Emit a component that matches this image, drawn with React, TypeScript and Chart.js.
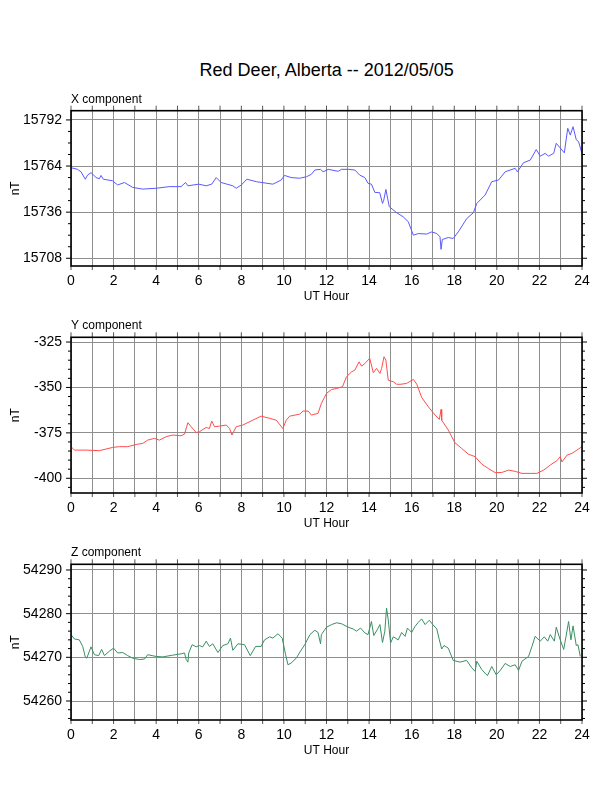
import React, { useEffect, useRef } from 'react';
import { Chart, registerables } from 'chart.js';

Chart.register(...registerables);

const FONT = '"Liberation Sans", Arial, Helvetica, sans-serif';
const GRID = '#8e8e8e';

const chartTitle = 'Red Deer, Alberta -- 2012/05/05';
const xAxisLabels = [0, 2, 4, 6, 8, 10, 12, 14, 16, 18, 20, 22, 24];

// X component
const xHours = [0, 0.31, 0.47, 0.67, 0.78, 0.94, 1.18, 1.33, 1.41, 1.52, 1.96, 2.19, 2.51, 2.9, 3.37, 4.0, 4.62, 5.17, 5.38, 5.49, 6.0, 6.35, 6.61, 6.82, 7.05, 7.6, 7.76, 8.0, 8.26, 8.7, 9.48, 9.87, 10.03, 10.34, 10.74, 11.06, 11.29, 11.45, 11.72, 11.84, 12.08, 12.55, 12.7, 13.02, 13.33, 13.56, 13.8, 13.95, 14.11, 14.27, 14.5, 14.63, 14.69, 14.79, 14.87, 14.95, 15.29, 15.6, 15.84, 16.08, 16.31, 16.71, 16.94, 17.18, 17.33, 17.38, 17.44, 17.72, 17.95, 18.19, 18.58, 18.9, 19.06, 19.45, 19.76, 20.08, 20.39, 20.86, 20.97, 21.25, 21.57, 21.85, 22.04, 22.27, 22.43, 22.67, 22.79, 23.06, 23.17, 23.33, 23.45, 23.58, 23.73, 23.84, 24];
const xValues = [15763, 15762, 15760.5, 15756, 15758.5, 15760, 15757, 15756.3, 15758.3, 15756, 15755, 15752.5, 15754, 15751, 15750, 15750.5, 15751.5, 15751.5, 15754, 15752, 15753, 15752, 15753, 15757, 15754, 15752, 15750.5, 15752.5, 15756, 15754.5, 15753, 15755.5, 15758.3, 15757, 15756.6, 15757.5, 15759, 15761.6, 15762, 15760.5, 15762, 15760.8, 15762, 15762, 15761.6, 15758.5, 15757, 15753.5, 15753, 15748, 15747.8, 15741.3, 15743.3, 15749.8, 15744.4, 15739.3, 15735.7, 15733.2, 15730.2, 15722, 15723, 15722.7, 15724, 15723, 15721, 15713.4, 15719.4, 15720.6, 15720, 15724, 15732, 15735.7, 15741.3, 15746.4, 15754.5, 15755.5, 15760.5, 15762.6, 15760.5, 15766, 15767.6, 15774, 15770, 15771.7, 15770, 15771.7, 15777.8, 15773.7, 15772, 15786.9, 15782.8, 15787.9, 15780, 15778.8, 15771.7];
const xMajors = [15708, 15736, 15764, 15792];

// Y component
const yHours = [0, 0.16, 0.7, 1.33, 1.96, 2.27, 2.66, 3.06, 3.37, 3.6, 3.92, 4.15, 4.47, 4.78, 5.17, 5.33, 5.49, 5.64, 5.88, 6.03, 6.35, 6.5, 6.61, 6.74, 6.97, 7.29, 7.45, 7.56, 7.76, 8.07, 8.54, 8.93, 9.33, 9.64, 9.95, 10.11, 10.27, 10.74, 10.9, 11.14, 11.29, 11.6, 11.76, 12.0, 12.24, 12.47, 12.75, 12.94, 13.18, 13.33, 13.53, 13.65, 13.8, 14.03, 14.2, 14.35, 14.51, 14.59, 14.7, 14.79, 14.9, 15.14, 15.29, 15.45, 15.76, 16.08, 16.24, 16.47, 16.78, 17.1, 17.3, 17.38, 17.41, 17.72, 18.03, 18.35, 18.66, 18.98, 19.29, 19.6, 19.92, 20.23, 20.55, 20.86, 21.18, 21.57, 21.88, 22.2, 22.51, 22.82, 22.98, 23.06, 23.3, 23.53, 23.76, 24];
const yValues = [-382.6, -384.5, -384.5, -384.8, -383, -382.6, -382.6, -381.4, -380.8, -379, -378, -379, -377.1, -376.2, -376.6, -375.7, -369.4, -371.6, -374.8, -374.4, -372, -372.6, -368.5, -371.6, -371.3, -370.7, -372.6, -376.2, -371.6, -370.7, -368, -365.8, -367, -368, -372.6, -368, -365.8, -364.7, -363, -363, -365.2, -364.3, -358.8, -353.3, -351.1, -350.6, -349.6, -344.1, -341.4, -340.5, -335.9, -338.3, -336.8, -334, -341.9, -339.5, -342.3, -339.5, -333.1, -335, -346, -346.9, -348.2, -348.3, -347.8, -345.6, -348.2, -355.5, -360.6, -365.2, -367.6, -362.1, -368, -373.5, -380.4, -383.6, -386.7, -388.1, -392.2, -394.6, -396.9, -396.8, -395.5, -396.2, -397.3, -397.3, -397.3, -395.5, -392.7, -390.3, -388.1, -391, -387.2, -386.3, -384.5, -382.6];
const yMajors = [-400, -375, -350, -325];

// Z component
const zHours = [0, 0.16, 0.39, 0.55, 0.67, 0.74, 0.94, 1.1, 1.3, 1.44, 1.57, 1.8, 2.0, 2.19, 2.43, 2.66, 2.9, 3.21, 3.45, 3.6, 4.0, 4.31, 4.78, 5.17, 5.33, 5.41, 5.49, 5.53, 5.69, 5.88, 6.03, 6.19, 6.35, 6.5, 6.66, 6.9, 7.13, 7.37, 7.49, 7.6, 7.84, 8.15, 8.42, 8.67, 8.93, 9.09, 9.33, 9.48, 9.72, 9.92, 10.08, 10.19, 10.34, 10.58, 10.75, 10.98, 11.22, 11.45, 11.6, 11.72, 11.76, 12.0, 12.24, 12.47, 12.7, 13.02, 13.25, 13.41, 13.6, 13.8, 13.95, 14.11, 14.22, 14.38, 14.51, 14.63, 14.74, 14.82, 14.9, 15.01, 15.14, 15.37, 15.53, 15.69, 15.8, 16.0, 16.16, 16.31, 16.47, 16.63, 16.83, 16.99, 17.18, 17.3, 17.41, 17.52, 17.72, 17.95, 18.27, 18.58, 18.82, 18.98, 19.06, 19.29, 19.56, 19.76, 19.97, 20.16, 20.39, 20.63, 20.86, 21.02, 21.18, 21.49, 21.65, 21.8, 22.04, 22.23, 22.39, 22.51, 22.7, 22.79, 22.95, 23.14, 23.25, 23.37, 23.48, 23.58, 23.73, 23.81, 23.92];
const zValues = [54275.2, 54274.2, 54274, 54272.5, 54270.1, 54269.8, 54272.4, 54270.6, 54270.4, 54271.8, 54270.4, 54271.4, 54272.1, 54271, 54271.1, 54270.4, 54269.8, 54269.5, 54269.6, 54270.6, 54270.2, 54270.1, 54270.5, 54270.8, 54271, 54269.5, 54268.9, 54271, 54272.9, 54272.4, 54272.7, 54272.4, 54273.7, 54272.5, 54273.1, 54271.1, 54272.7, 54273.1, 54274.4, 54271.6, 54273.1, 54272.9, 54270.4, 54272.5, 54272.5, 54274, 54274.7, 54274.4, 54275.4, 54274.4, 54270.6, 54268.3, 54268.7, 54269.8, 54271.2, 54272.9, 54275.2, 54276.2, 54275.7, 54273.1, 54275.2, 54276.9, 54277.5, 54277.9, 54277.7, 54276.9, 54276.5, 54276, 54276.7, 54275.6, 54275.2, 54278.2, 54275, 54276.3, 54277.5, 54273.4, 54276, 54281.3, 54278.6, 54273.3, 54274.7, 54274, 54275.7, 54274.8, 54276.7, 54275.7, 54277.1, 54278, 54278.8, 54277.5, 54278.5, 54277.5, 54276.5, 54274, 54271.9, 54272.7, 54272.1, 54269.3, 54268.9, 54269.3, 54267.6, 54266.8, 54269.1, 54267.2, 54265.8, 54267.9, 54266, 54267, 54268.6, 54267.9, 54268.3, 54267, 54269.1, 54270.2, 54272.5, 54274.8, 54273.7, 54274.7, 54273.7, 54275.2, 54273.7, 54276.9, 54274.4, 54271.8, 54274.8, 54278.2, 54274, 54277.2, 54272.7, 54272.9, 54270.2];
const zMajors = [54260, 54270, 54280, 54290];

type PanelProps = {
  hours: number[];
  values: number[];
  color: string;
  label: string;
  min: number;
  max: number;
  majors: number[];
  minorStep: number;
  canvasTop: number;
  padTop: number;
};

const CANVAS_W = 612;
const CANVAS_H = 226;

function Panel(p: PanelProps) {
  const ref = useRef<HTMLCanvasElement>(null);
  useEffect(() => {
    const canvas = ref.current;
    if (!canvas) return;
    const framePlugin = {
      id: 'frame',
      afterDraw(chart: any) {
        const { ctx, chartArea: a, scales } = chart;
        const ys = scales.y;
        const xs = scales.x;
        ctx.save();
        // y ticks (left & right, outward)
        ctx.strokeStyle = '#000';
        ctx.lineWidth = 1;
        const first = Math.ceil(p.min / p.minorStep - 1e-9) * p.minorStep;
        for (let v = first; v <= p.max + 1e-9; v += p.minorStep) {
          const py = ys.getPixelForValue(v);
          const isMajor = p.majors.some((m) => Math.abs(m - v) < 1e-6);
          const len = isMajor ? 5 : 3;
          ctx.beginPath();
          ctx.moveTo(a.left - len, py);
          ctx.lineTo(a.left, py);
          ctx.moveTo(a.right, py);
          ctx.lineTo(a.right + len, py);
          ctx.stroke();
        }
        // x ticks (top & bottom, outward)
        ctx.strokeStyle = '#555';
        for (let h = xs.min; h <= xs.max; h += 1) {
          const px = xs.getPixelForValue(h);
          ctx.beginPath();
          ctx.moveTo(px, a.top - 5);
          ctx.lineTo(px, a.top);
          ctx.moveTo(px, a.bottom);
          ctx.lineTo(px, a.bottom + 4);
          ctx.stroke();
        }
        // frame
        ctx.strokeStyle = '#000';
        ctx.lineWidth = 1.6;
        ctx.strokeRect(a.left, a.top, a.right - a.left, a.bottom - a.top);
        // component label
        ctx.fillStyle = '#000';
        ctx.font = `12px ${FONT}`;
        ctx.textAlign = 'left';
        ctx.textBaseline = 'alphabetic';
        ctx.fillText(p.label, a.left, a.top - 8);
        ctx.restore();
      },
    };

    const chart = new Chart(canvas, {
      type: 'line',
      data: {
        datasets: [
          {
            data: p.hours.map((h, i) => ({ x: h, y: p.values[i] })),
            borderColor: p.color,
            borderWidth: 1,
            pointRadius: 0,
            tension: 0,
            fill: false,
          },
        ],
      },
      options: {
        animation: false,
        responsive: false,
        layout: { padding: { top: p.padTop, left: 0, right: 30, bottom: 0 } },
        plugins: {
          legend: { display: false },
          tooltip: { enabled: false },
          title: { display: false },
        },
        scales: {
          x: {
            type: 'linear',
            min: 0,
            max: 24,
            ticks: {
              stepSize: 1,
              autoSkip: false,
              maxRotation: 0,
              padding: 7,
              color: '#000',
              font: { size: 14, family: FONT },
              callback: (v: any) => (xAxisLabels.includes(Number(v)) ? String(v) : ''),
            },
            grid: { color: GRID, lineWidth: 1, drawTicks: false },
            border: { display: false },
            title: {
              display: true,
              text: 'UT Hour',
              color: '#000',
              font: { size: 12, family: FONT },
              padding: { top: 0, bottom: 2 },
            },
            afterFit: (s: any) => {
              s.height = 40;
            },
          },
          y: {
            type: 'linear',
            min: p.min,
            max: p.max,
            afterBuildTicks: (s: any) => {
              s.ticks = p.majors.map((v) => ({ value: v }));
            },
            ticks: {
              padding: 9,
              color: '#000',
              font: { size: 14, family: FONT },
              callback: (v: any) => String(v),
            },
            grid: { color: GRID, lineWidth: 1, drawTicks: false },
            border: { display: false },
            title: {
              display: true,
              text: 'nT',
              color: '#000',
              font: { size: 12, family: FONT },
              padding: { top: 8.6, bottom: 0 },
            },
            afterFit: (s: any) => {
              s.width = 71;
            },
          },
        },
      },
      plugins: [framePlugin],
    } as any);
    return () => chart.destroy();
  }, []);

  return (
    <canvas
      ref={ref}
      width={CANVAS_W}
      height={CANVAS_H}
      style={{ position: 'absolute', left: 0, top: p.canvasTop, width: CANVAS_W, height: CANVAS_H }}
    />
  );
}

export default function App() {
  return (
    <div style={{ position: 'absolute', left: 0, top: 0, width: 612, height: 792, background: '#fff' }}>
      <div
        style={{
          position: 'absolute',
          left: 326.7,
          top: 61.3,
          transform: 'translateX(-50%)',
          fontFamily: FONT,
          fontSize: 18,
          lineHeight: '18px',
          whiteSpace: 'nowrap',
          color: '#000',
        }}
      >
        {chartTitle}
      </div>
      <Panel hours={xHours} values={xValues} color="#5a5aff" label="X component" min={15703.3} max={15797.6} majors={xMajors} minorStep={7} canvasTop={80} padTop={30.7} />
      <Panel hours={yHours} values={yValues} color="#ff4d4d" label="Y component" min={-408.1} max={-322.4} majors={yMajors} minorStep={5} canvasTop={307} padTop={30.3} />
      <Panel hours={zHours} values={zValues} color="#3a8f63" label="Z component" min={54255.65} max={54291.3} majors={zMajors} minorStep={2} canvasTop={534} padTop={30.3} />
    </div>
  );
}
